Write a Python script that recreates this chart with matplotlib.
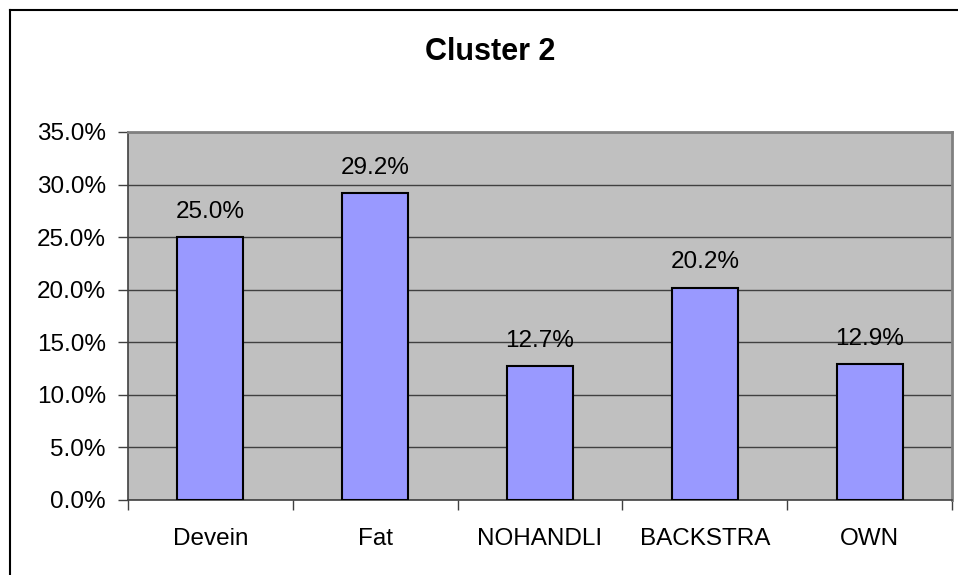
import numpy as np
import matplotlib.pyplot as plt
from matplotlib.lines import Line2D
from matplotlib.ticker import MultipleLocator, PercentFormatter

categories = ['Devein', 'Fat', 'NOHANDLI', 'BACKSTRA', 'OWN']
values = [25.0, 29.2, 12.7, 20.2, 12.9]
title = 'Cluster 2'

plt.rcParams['font.family'] = ['Liberation Sans', 'DejaVu Sans']

W, H = 958, 575
fig = plt.figure(figsize=(W / 100, H / 100), dpi=100)

# plot area in pixels: left 128, right 952, top 132, bottom 500
ax = fig.add_axes([128 / W, 1 - 500 / H, (952 - 128) / W, (500 - 132) / H])
ax.set_facecolor('#C0C0C0')

x = np.arange(len(categories))
ax.bar(x, values, width=0.4, color='#9999FF', edgecolor='black', linewidth=1.5, zorder=3)

for xi, v in zip(x, values):
    ax.annotate(f'{v:.1f}%', (xi, v), xytext=(0, 14), textcoords='offset points',
                ha='center', va='baseline', fontsize=17.5, color='black')

ax.set_xlim(-0.5, len(categories) - 0.5)
ax.set_ylim(0, 35)
ax.yaxis.set_major_locator(MultipleLocator(5))
ax.yaxis.set_major_formatter(PercentFormatter(decimals=1))
ax.grid(axis='y', color='#404040', linewidth=1.0, zorder=1)
ax.set_axisbelow(True)

ax.set_xticks(x)
ax.set_xticklabels(categories)
ax.set_xticks(np.arange(-0.5, len(categories)), minor=True)
ax.tick_params(axis='x', which='major', length=0, pad=20, labelsize=17.5)
ax.tick_params(axis='x', which='minor', length=7, width=1, color='#404040', direction='out')
ax.tick_params(axis='y', length=7, width=1, color='#404040', direction='out', pad=9, labelsize=17.5)

for side in ['top', 'right']:
    ax.spines[side].set_color('#808080')
    ax.spines[side].set_linewidth(2)
for side in ['left', 'bottom']:
    ax.spines[side].set_color('#404040')
    ax.spines[side].set_linewidth(1.2)

fig.text(490 / W, 1 - 52 / H, title, ha='center', va='center', fontsize=22, fontweight='bold')

# chart area border (only left and top visible)
fig.add_artist(Line2D([9.5 / W, 9.5 / W], [0, 1 - 9.5 / H], transform=fig.transFigure, color='black', linewidth=1.5))
fig.add_artist(Line2D([9.5 / W, 1], [1 - 9.5 / H, 1 - 9.5 / H], transform=fig.transFigure, color='black', linewidth=1.5))

fig.savefig('out.png', dpi=100)
